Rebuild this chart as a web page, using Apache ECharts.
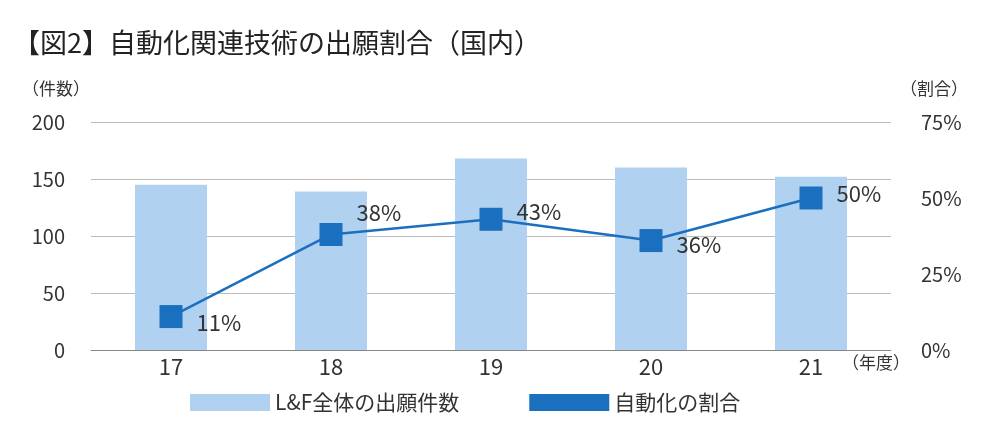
<!DOCTYPE html>
<html><head><meta charset="utf-8">
<script src="https://cdn.jsdelivr.net/npm/echarts@6/dist/echarts.min.js"></script>
<style>html,body{margin:0;background:#fff}#c{width:1000px;height:440px}</style>
</head><body><div id="c"></div>
<script>
const categories = ['17','18','19','20','21'];
const counts = [145, 139, 168, 160, 152];
const ratios = [11, 38, 43, 36, 50];
const leftTicks = [0,50,100,150,200];
const F = '"Noto Sans CJK JP","Noto Sans",sans-serif';
const chart = echarts.init(document.getElementById('c'));
chart.setOption({
  animation:false,
  textStyle:{fontFamily:F},
  title:{text:'【図2】自動化関連技術の出願割合（国内）',left:8,top:24,textStyle:{fontFamily:F,fontSize:27,fontWeight:'normal',color:'#222'}},
  graphic:[
    {type:'text',left:22,top:80,style:{text:'（件数）',font:'17px '+F,fill:'#333'}},
    {type:'text',left:900,top:80,style:{text:'（割合）',font:'17px '+F,fill:'#333'}},
    {type:'text',left:842,top:354,style:{text:'（年度）',font:'17px '+F,fill:'#333'}}
  ],
  legend:{bottom:22,left:185,itemWidth:80,itemHeight:17,itemGap:70,textStyle:{fontSize:21,color:'#333',fontFamily:F},
    data:[{name:'L&F全体の出願件数',icon:'rect'},{name:'自動化の割合',icon:'rect'}]},
  grid:{left:91,right:109,top:122,bottom:90},
  xAxis:{type:'category',data:categories,axisTick:{show:false},axisLine:{lineStyle:{color:'#888'}},
    axisLabel:{fontSize:22,color:'#333',margin:6}},
  yAxis:[
    {type:'value',min:0,max:200,interval:50,axisLabel:{fontSize:20,color:'#333',margin:26},splitLine:{lineStyle:{color:'#bbb'}}},
    {type:'value',min:0,max:75,interval:25,axisLabel:{fontSize:20,color:'#333',formatter:'{value}%',margin:30},splitLine:{show:false}}
  ],
  series:[
    {name:'L&F全体の出願件数',type:'bar',data:counts,barWidth:72,itemStyle:{color:'#b1d1f0'}},
    {name:'自動化の割合',type:'line',yAxisIndex:1,data:ratios,symbol:'rect',symbolSize:23,
      lineStyle:{color:'#1b6fbf',width:2.5},itemStyle:{color:'#1b6fbf'},
      label:{show:true,position:'right',distance:14,fontSize:22,color:'#333',formatter:'{c}%'},
      labelLayout:function(p){const o=[[0,-6],[0,-22],[0,-8],[0,4],[0,-4]][p.dataIndex];return {dy:o[1]+(p.dataIndex===0?12:0)};}}
  ]
});
</script></body></html>
